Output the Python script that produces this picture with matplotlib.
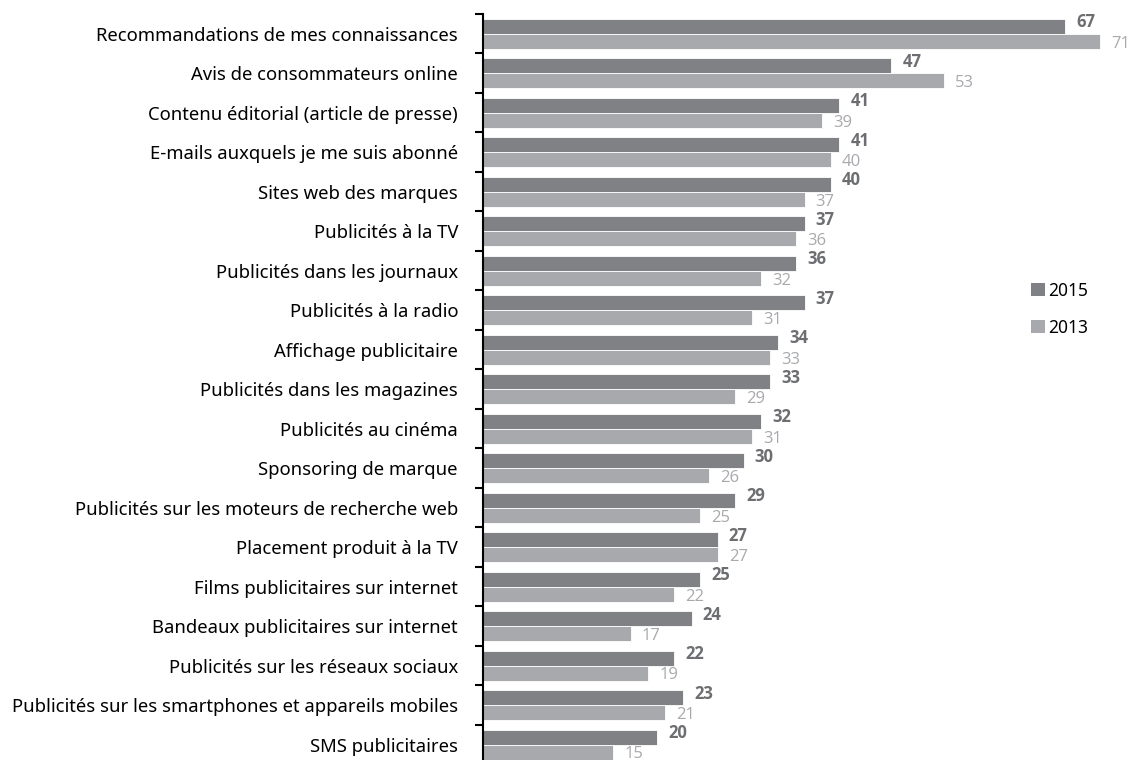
import numpy as np
import matplotlib.pyplot as plt
from matplotlib.patches import Patch
from matplotlib.ticker import FixedLocator

categories = [
    "Recommandations de mes connaissances",
    "Avis de consommateurs online",
    "Contenu éditorial (article de presse)",
    "E-mails auxquels je me suis abonné",
    "Sites web des marques",
    "Publicités à la TV",
    "Publicités dans les journaux",
    "Publicités à la radio",
    "Affichage publicitaire",
    "Publicités dans les magazines",
    "Publicités au cinéma",
    "Sponsoring de marque",
    "Publicités sur les moteurs de recherche web",
    "Placement produit à la TV",
    "Films publicitaires sur internet",
    "Bandeaux publicitaires sur internet",
    "Publicités sur les réseaux sociaux",
    "Publicités sur les smartphones et appareils mobiles",
    "SMS publicitaires",
]
values_2015 = [67, 47, 41, 41, 40, 37, 36, 37, 34, 33, 32, 30, 29, 27, 25, 24, 22, 23, 20]
values_2013 = [71, 53, 39, 40, 37, 36, 32, 31, 33, 29, 31, 26, 25, 27, 22, 17, 19, 21, 15]

dark = "#808184"
light = "#a8a9ac"
dark_txt = "#6d6e71"
light_txt = "#a7a9ac"

plt.rcParams['font.family'] = ['Noto Sans', 'DejaVu Sans']

fig = plt.figure(figsize=(11.35, 7.6), dpi=100)
W, H = 1135, 760
left, right, top, bottom = 483, 1135, 14, 760
ax = fig.add_axes([left / W, 1 - bottom / H, (right - left) / W, (bottom - top) / H])

y = np.arange(len(categories))
h = 0.38
ax.barh(y - h / 2, values_2015, height=h, color=dark, edgecolor="white", linewidth=0.6)
ax.barh(y + h / 2, values_2013, height=h, color=light, edgecolor="white", linewidth=0.6)

# value labels: 2015 bold just above the bar end, 2013 lighter just below
for yi, v in zip(y, values_2015):
    ax.annotate(str(v), (v, yi - h / 2 - 0.1), xytext=(8, 0), textcoords="offset points",
                va="center", ha="left", fontsize=12, fontweight="bold", color=dark_txt,
                family=["Open Sans", "DejaVu Sans"])
for yi, v in zip(y, values_2013):
    ax.annotate(str(v), (v, yi + h / 2 + 0.06), xytext=(8, 0), textcoords="offset points",
                va="center", ha="left", fontsize=12, color=light_txt,
                family=["Open Sans", "DejaVu Sans"])

ax.set_xlim(0, (right - left) / 8.69)
ax.set_ylim(18.39, -0.5)

ax.set_yticks(y)
ax.set_yticklabels(categories, fontsize=13.3)
ax.tick_params(axis="y", which="major", length=0, pad=18)
ax.yaxis.set_minor_locator(FixedLocator(np.arange(-0.5, len(categories), 1.0)))
ax.tick_params(axis="y", which="minor", length=6, width=1.5, color="black")
ax.set_xticks([])
for s in ["top", "right", "bottom"]:
    ax.spines[s].set_visible(False)
ax.spines["left"].set_linewidth(1.5)

handles = [Patch(facecolor=dark, label="2015"), Patch(facecolor=light, label="2013")]
fig.legend(handles=handles, loc="upper left", bbox_to_anchor=(1015 / W, 1 - 266 / H),
           frameon=False, fontsize=12.5, handlelength=0.8, handleheight=0.8,
           handletextpad=0.2, labelspacing=1.1)

fig.savefig("out.png", dpi=100)
